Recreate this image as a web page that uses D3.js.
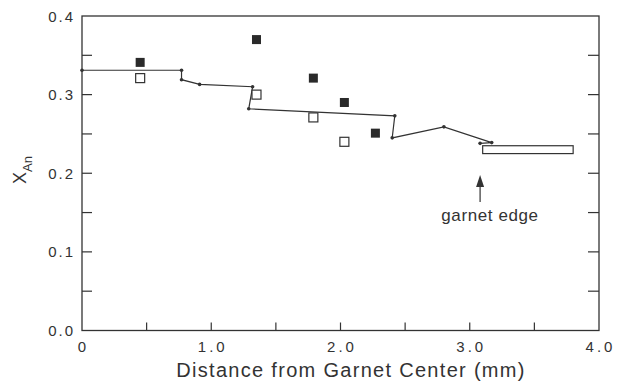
<!DOCTYPE html>
<html>
<head>
<meta charset="utf-8">
<script src="https://cdn.jsdelivr.net/npm/d3@7"></script>
<style>
  body { margin: 0; background: #fff; }
  text { font-family: "Liberation Sans", Arial, sans-serif; fill: #333; }
</style>
</head>
<body>
<svg width="626" height="384"></svg>
<script>
// measured profile (line with dots)
var profileX = [0, 0.77, 0.77, 0.91, 1.32, 1.29, 2.42, 2.40, 2.80, 3.17, 3.08]
var profileY = [0.331, 0.331, 0.319, 0.313, 0.310, 0.282, 0.273, 0.245, 0.259, 0.239, 0.238]

// filled squares
var filledX = [0.45, 1.35, 1.79, 2.03, 2.27]
var filledY = [0.341, 0.370, 0.321, 0.290, 0.251]

// open squares
var openX = [0.45, 1.35, 1.79, 2.03]
var openY = [0.321, 0.300, 0.271, 0.240]

// rim box
var boxX = [3.10, 3.80]
var boxY = [0.225, 0.235]

var xTicks = [0, 1, 2, 3, 4]
var xTickLabels = ["0", "1.0", "2.0", "3.0", "4.0"]
var yTicks = [0, 0.1, 0.2, 0.3, 0.4]
var yTickLabels = ["0.0", "0.1", "0.2", "0.3", "0.4"]

var svg = d3.select("svg")
var x = d3.scaleLinear().domain([0, 4]).range([82, 599])
var y = d3.scaleLinear().domain([0, 0.4]).range([330.5, 16])

var ink = "#333"

// frame
svg.append("rect")
  .attr("x", x(0)).attr("y", y(0.4))
  .attr("width", x(4) - x(0)).attr("height", y(0) - y(0.4))
  .attr("fill", "none").attr("stroke", ink).attr("stroke-width", 1.3)

// ticks (inward)
var xMinor = d3.range(0.5, 4, 0.5)
svg.selectAll(".xt").data(xMinor).join("line")
  .attr("x1", d => x(d)).attr("x2", d => x(d))
  .attr("y1", y(0)).attr("y2", y(0) - 8)
  .attr("stroke", ink).attr("stroke-width", 1.2)

var yMinor = d3.range(0.05, 0.4, 0.05)
svg.selectAll(".ytl").data(yMinor).join("line")
  .attr("x1", x(0)).attr("x2", x(0) + 10)
  .attr("y1", d => y(d)).attr("y2", d => y(d))
  .attr("stroke", ink).attr("stroke-width", 1.2)
svg.selectAll(".ytr").data(yMinor).join("line")
  .attr("x1", x(4)).attr("x2", x(4) - 11)
  .attr("y1", d => y(d)).attr("y2", d => y(d))
  .attr("stroke", ink).attr("stroke-width", 1.2)

// tick labels
svg.selectAll(".xl").data(xTicks).join("text")
  .attr("x", d => x(d) + 1.5).attr("y", 352)
  .attr("text-anchor", "middle").attr("font-size", 15)
  .attr("letter-spacing", 3)
  .text((d, i) => xTickLabels[i])

svg.selectAll(".yl").data(yTicks).join("text")
  .attr("x", 75).attr("y", d => y(d) + 5.5)
  .attr("text-anchor", "end").attr("font-size", 15)
  .attr("letter-spacing", 2)
  .text((d, i) => yTickLabels[i])

// axis titles
svg.append("text")
  .attr("x", 351).attr("y", 377)
  .attr("text-anchor", "middle").attr("font-size", 20)
  .attr("letter-spacing", 1.3)
  .text("Distance from Garnet Center (mm)")

var yl = svg.append("text")
  .attr("transform", "translate(26,170) rotate(-90)")
  .attr("text-anchor", "middle").attr("font-size", 18)
yl.append("tspan").text("X")
yl.append("tspan").attr("font-size", 13).attr("dy", 6).text("An")

// profile line
var profile = profileX.map((d, i) => [d, profileY[i]])
svg.append("path")
  .datum(profile)
  .attr("d", d3.line().x(d => x(d[0])).y(d => y(d[1])))
  .attr("fill", "none").attr("stroke", ink).attr("stroke-width", 1.2)
svg.selectAll(".pd").data(profile).join("circle")
  .attr("cx", d => x(d[0])).attr("cy", d => y(d[1]))
  .attr("r", 1.8).attr("fill", ink)

// squares
var s = 9
svg.selectAll(".fs").data(filledX).join("rect")
  .attr("x", d => x(d) - s / 2).attr("y", (d, i) => y(filledY[i]) - s / 2)
  .attr("width", s).attr("height", s)
  .attr("fill", "#2a2a2a")

svg.selectAll(".os").data(openX).join("rect")
  .attr("x", d => x(d) - s / 2).attr("y", (d, i) => y(openY[i]) - s / 2)
  .attr("width", s).attr("height", s)
  .attr("fill", "#fff").attr("stroke", ink).attr("stroke-width", 1.2)

// rim box
svg.append("rect")
  .attr("x", x(boxX[0])).attr("y", y(boxY[1]))
  .attr("width", x(boxX[1]) - x(boxX[0])).attr("height", y(boxY[0]) - y(boxY[1]))
  .attr("fill", "#fff").attr("stroke", ink).attr("stroke-width", 1.2)

// garnet edge annotation
var ax = x(3.08)
svg.append("line")
  .attr("x1", ax).attr("x2", ax).attr("y1", 202).attr("y2", 182)
  .attr("stroke", ink).attr("stroke-width", 1.2)
svg.append("path")
  .attr("d", `M${ax},175 L${ax - 4},187 L${ax + 4},187 Z`)
  .attr("fill", ink)
svg.append("text")
  .attr("x", 490).attr("y", 221)
  .attr("text-anchor", "middle").attr("font-size", 17)
  .attr("letter-spacing", 0.6)
  .text("garnet edge")
</script>
</body>
</html>
